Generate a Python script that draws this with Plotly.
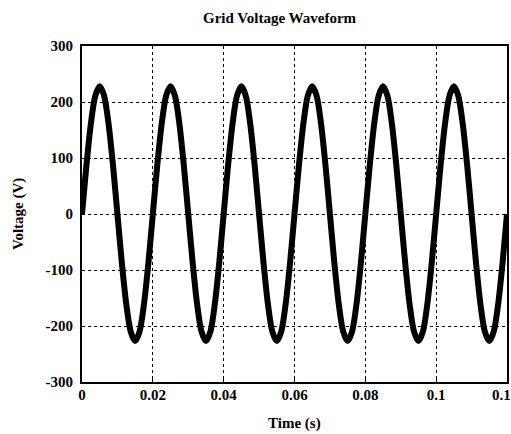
import plotly.graph_objects as go

time_s = [0.0, 0.00125, 0.0025, 0.00375, 0.005, 0.00625, 0.0075, 0.00875,
          0.01, 0.01125, 0.0125, 0.01375, 0.015, 0.01625, 0.0175, 0.01875,
          0.02, 0.02125, 0.0225, 0.02375, 0.025, 0.02625, 0.0275, 0.02875,
          0.03, 0.03125, 0.0325, 0.03375, 0.035, 0.03625, 0.0375, 0.03875,
          0.04, 0.04125, 0.0425, 0.04375, 0.045, 0.04625, 0.0475, 0.04875,
          0.05, 0.05125, 0.0525, 0.05375, 0.055, 0.05625, 0.0575, 0.05875,
          0.06, 0.06125, 0.0625, 0.06375, 0.065, 0.06625, 0.0675, 0.06875,
          0.07, 0.07125, 0.0725, 0.07375, 0.075, 0.07625, 0.0775, 0.07875,
          0.08, 0.08125, 0.0825, 0.08375, 0.085, 0.08625, 0.0875, 0.08875,
          0.09, 0.09125, 0.0925, 0.09375, 0.095, 0.09625, 0.0975, 0.09875,
          0.1, 0.10125, 0.1025, 0.10375, 0.105, 0.10625, 0.1075, 0.10875,
          0.11, 0.11125, 0.1125, 0.11375, 0.115, 0.11625, 0.1175, 0.11875,
          0.12]
voltage_v = [0, 87, 161, 211, 228, 211, 161, 87,
             0, -87, -161, -210, -227, -210, -161, -87,
             0, 87, 161, 211, 228, 211, 161, 87,
             0, -87, -161, -210, -227, -210, -161, -87,
             0, 87, 161, 211, 228, 211, 161, 87,
             0, -87, -161, -210, -227, -210, -161, -87,
             0, 87, 161, 211, 228, 211, 161, 87,
             0, -87, -161, -210, -227, -210, -161, -87,
             0, 87, 161, 211, 228, 211, 161, 87,
             0, -87, -161, -210, -227, -210, -161, -87,
             0, 87, 161, 211, 228, 211, 161, 87,
             0, -87, -161, -210, -227, -210, -161, -87,
             0]

x_tickvals = [0, 0.02, 0.04, 0.06, 0.08, 0.1, 0.12]
x_ticktext = ["0", "0.02", "0.04", "0.06", "0.08", "0.1", ""]
x_last_label = "0.1"
y_tickvals = [-300, -200, -100, 0, 100, 200, 300]
y_ticktext = ["-300", "-200", "-100", "0", "100", "200", "300"]

font = "Liberation Serif"
tfont = dict(family=font, size=15, color="black", weight="bold")

fig = go.Figure()
fig.add_trace(go.Scatter(x=time_s, y=voltage_v, mode="lines",
                         line=dict(color="black", width=6, shape="spline", smoothing=0.8),
                         showlegend=False))

axis_common = dict(showline=True, linecolor="black", linewidth=2, mirror=True,
                   showgrid=True, gridcolor="black", gridwidth=1, griddash="dot",
                   ticks="inside", ticklen=3, tickcolor="black", zeroline=False,
                   automargin=False, tickfont=tfont)

fig.update_xaxes(range=[0, 0.12], tickvals=x_tickvals, ticktext=x_ticktext, ticklabelstandoff=-2,
                 **axis_common)
fig.update_yaxes(range=[-300, 300], tickvals=y_tickvals, ticktext=y_ticktext, ticklabelstandoff=4,
                 **axis_common)

fig.update_layout(
    width=511, height=434,
    margin=dict(l=82, r=4, t=46, b=52),
    paper_bgcolor="white", plot_bgcolor="white",
    font=dict(family=font, color="black"),
    annotations=[
        dict(text="Grid Voltage Waveform", xref="paper", yref="paper", x=0.466, y=1.0, yshift=28,
             xanchor="center", yanchor="middle", showarrow=False,
             font=dict(family=font, size=15, color="black", weight="bold")),
        dict(text="Time (s)", xref="paper", yref="paper", x=0.499, y=0, yshift=-41,
             xanchor="center", yanchor="middle", showarrow=False,
             font=dict(family=font, size=15, color="black", weight="bold")),
        dict(text="Voltage (V)", xref="paper", yref="paper", x=0, xshift=-64, y=0.5,
             xanchor="center", yanchor="middle", showarrow=False, textangle=-90,
             font=dict(family=font, size=15, color="black", weight="bold")),
        dict(text=x_last_label, xref="x", yref="paper", x=x_tickvals[-1], xshift=-6, y=0, yshift=-13,
             xanchor="center", yanchor="middle", showarrow=False, font=tfont),
    ],
)

fig.write_html("out.html", config={"displayModeBar": False},
               post_script="document.body.style.margin='0';")
